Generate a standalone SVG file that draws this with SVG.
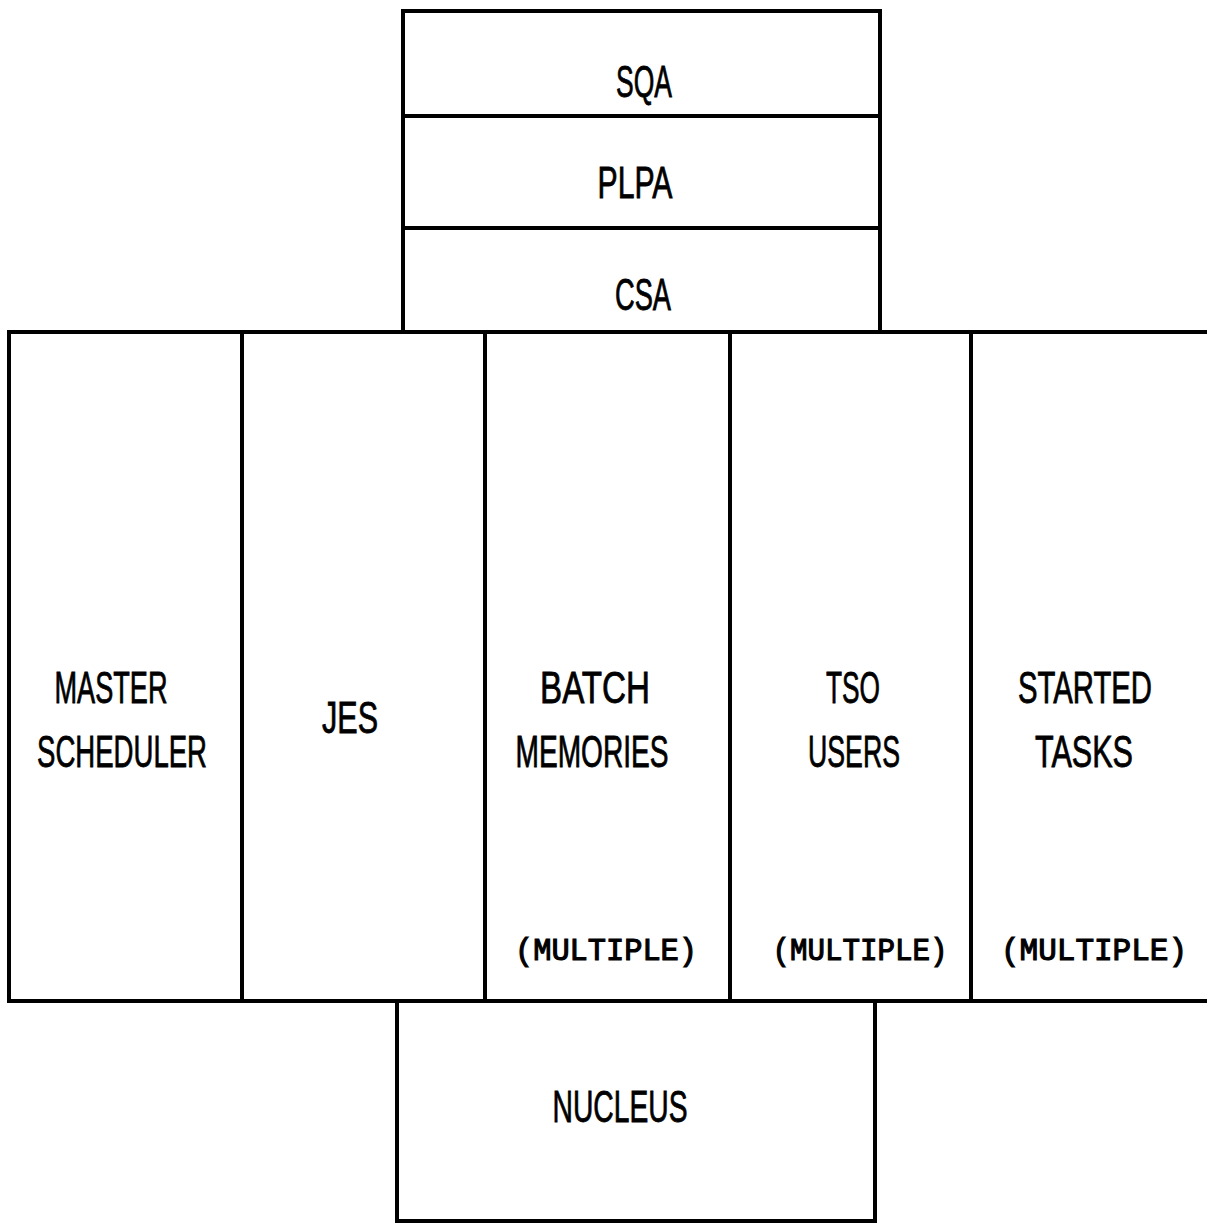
<svg xmlns="http://www.w3.org/2000/svg" width="1207" height="1224" viewBox="0 0 1207 1224">
  <style>
    .ln { stroke: #000; stroke-width: 4; fill: none; stroke-linecap: square; }
    .lbl { font-family: "Liberation Sans", "DejaVu Sans", sans-serif; font-size: 44px; fill: #000; stroke: #000; stroke-width: 0.8; text-anchor: middle; }
    .mul { font-family: "Liberation Mono", "DejaVu Sans Mono", monospace; font-size: 31px; fill: #000; stroke: #000; stroke-width: 1.2; text-anchor: middle; }
  </style>
  <rect width="1207" height="1224" fill="#fff"/>

  <!-- common areas stacked above the address spaces -->
  <g id="sqa">
    <path class="ln" d="M403 11 H880 M403 11 V116 M880 11 V116"/>
    <text class="lbl" x="644" y="97" textLength="56" lengthAdjust="spacingAndGlyphs">SQA</text>
  </g>
  <g id="plpa">
    <path class="ln" d="M403 116 H880 M403 116 V228 M880 116 V228"/>
    <text class="lbl" x="635" y="198" textLength="75" lengthAdjust="spacingAndGlyphs">PLPA</text>
  </g>
  <g id="csa">
    <path class="ln" d="M403 228 H880 M403 228 V332 M880 228 V332"/>
    <text class="lbl" x="643" y="310" textLength="56" lengthAdjust="spacingAndGlyphs">CSA</text>
  </g>

  <!-- address space columns -->
  <g id="master-scheduler">
    <path class="ln" d="M9 332 V1001"/>
    <text class="lbl" x="111" y="703" textLength="113" lengthAdjust="spacingAndGlyphs">MASTER</text>
    <text class="lbl" x="122" y="767" textLength="170" lengthAdjust="spacingAndGlyphs">SCHEDULER</text>
  </g>
  <g id="jes">
    <path class="ln" d="M242 332 V1001"/>
    <text class="lbl" x="350" y="733" textLength="56" lengthAdjust="spacingAndGlyphs">JES</text>
  </g>
  <g id="batch">
    <path class="ln" d="M485 332 V1001"/>
    <text class="lbl" x="595" y="703" textLength="110" lengthAdjust="spacingAndGlyphs">BATCH</text>
    <text class="lbl" x="592" y="767" textLength="153" lengthAdjust="spacingAndGlyphs">MEMORIES</text>
    <text class="mul" x="606" y="960" textLength="182" lengthAdjust="spacingAndGlyphs">(MULTIPLE)</text>
  </g>
  <g id="tso">
    <path class="ln" d="M730 332 V1001"/>
    <text class="lbl" x="853" y="703" textLength="54" lengthAdjust="spacingAndGlyphs">TSO</text>
    <text class="lbl" x="854" y="767" textLength="92" lengthAdjust="spacingAndGlyphs">USERS</text>
    <text class="mul" x="860" y="960" textLength="175" lengthAdjust="spacingAndGlyphs">(MULTIPLE)</text>
  </g>
  <g id="started">
    <path class="ln" d="M971 332 V1001"/>
    <text class="lbl" x="1085" y="703" textLength="134" lengthAdjust="spacingAndGlyphs">STARTED</text>
    <text class="lbl" x="1084" y="767" textLength="98" lengthAdjust="spacingAndGlyphs">TASKS</text>
    <text class="mul" x="1094" y="960" textLength="186" lengthAdjust="spacingAndGlyphs">(MULTIPLE)</text>
  </g>

  <!-- nucleus below -->
  <g id="nucleus">
    <path class="ln" d="M397 1001 V1221 H875 V1001"/>
    <text class="lbl" x="620" y="1122" textLength="135" lengthAdjust="spacingAndGlyphs">NUCLEUS</text>
  </g>

  <!-- shared horizontal boundaries -->
  <g id="connectors">
    <path class="ln" d="M9 332 H1207"/>
    <path class="ln" d="M9 1001 H1207"/>
  </g>
</svg>
